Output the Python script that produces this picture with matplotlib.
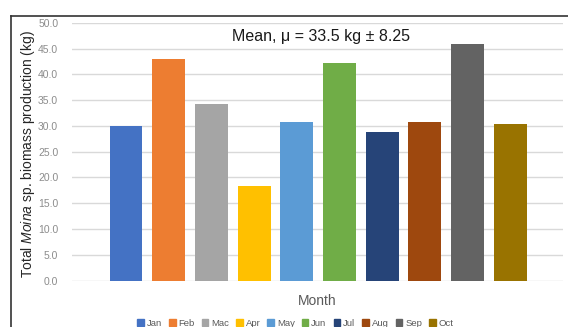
import numpy as np
import matplotlib.pyplot as plt
from matplotlib.lines import Line2D

plt.rcParams['font.family'] = ['Liberation Sans', 'DejaVu Sans']
plt.rcParams['mathtext.fontset'] = 'custom'
plt.rcParams['mathtext.it'] = 'Liberation Sans:italic'
plt.rcParams['mathtext.rm'] = 'Liberation Sans'

months = ['Jan', 'Feb', 'Mac', 'Apr', 'May', 'Jun', 'Jul', 'Aug', 'Sep', 'Oct']
biomass = [30.0, 43.0, 34.3, 18.3, 30.8, 42.2, 28.9, 30.8, 46.0, 30.4]
colors = ['#4472C4', '#ED7D31', '#A5A5A5', '#FFC000', '#5B9BD5',
          '#70AD47', '#264478', '#9E480E', '#636363', '#997300']
yticks = np.arange(0, 50.1, 5)

fig = plt.figure(figsize=(5.68, 3.27), dpi=100)
ax = fig.add_axes([0.127, 0.142, 0.864, 0.788])

x = np.arange(len(months))
bars = ax.bar(x, biomass, width=0.77, color=colors, zorder=3, label=months)

ax.set_ylim(0, 50)
ax.set_xlim(-1.26, 10.23)
ax.set_yticks(yticks)
ax.set_yticklabels(['%.1f' % v for v in yticks], fontsize=7.5, color='#8c8c8c')
ax.set_xticks([])
ax.tick_params(axis='y', length=0, pad=10)
ax.grid(axis='y', color='#d9d9d9', lw=1, zorder=0)
for s in ax.spines.values():
    s.set_visible(False)

ax.set_ylabel(r'Total $\it{Moina}$ sp. biomass production (kg)', fontsize=10,
              color='#262626')
ax.yaxis.set_label_coords(-0.072, 0.49)
ax.set_xlabel('Month', fontsize=10, color='#595959', labelpad=10)

ax.text(0.507, 0.975, 'Mean, \u03bc = 33.5 kg \u00b1 8.25', transform=ax.transAxes,
        ha='center', va='top', fontsize=11.5, color='#1a1a1a')

handles = [plt.Rectangle((0, 0), 1, 1, color=c) for c in colors]
fig.legend(handles, months, loc='center', bbox_to_anchor=(0.52, 0.012), ncol=10,
           frameon=False, fontsize=6.8, handlelength=0.7, handleheight=0.7,
           handletextpad=0.3, columnspacing=0.75, labelcolor='#595959')

# outer frame of the chart (top and left edges)
fig.add_artist(Line2D([11 / 568, 1.0], [1 - 16 / 327, 1 - 16 / 327],
                      transform=fig.transFigure, color='#333333', lw=1.2))
fig.add_artist(Line2D([11 / 568, 11 / 568], [0, 1 - 16 / 327],
                      transform=fig.transFigure, color='#333333', lw=1.2))

fig.savefig('out.png', dpi=100)
